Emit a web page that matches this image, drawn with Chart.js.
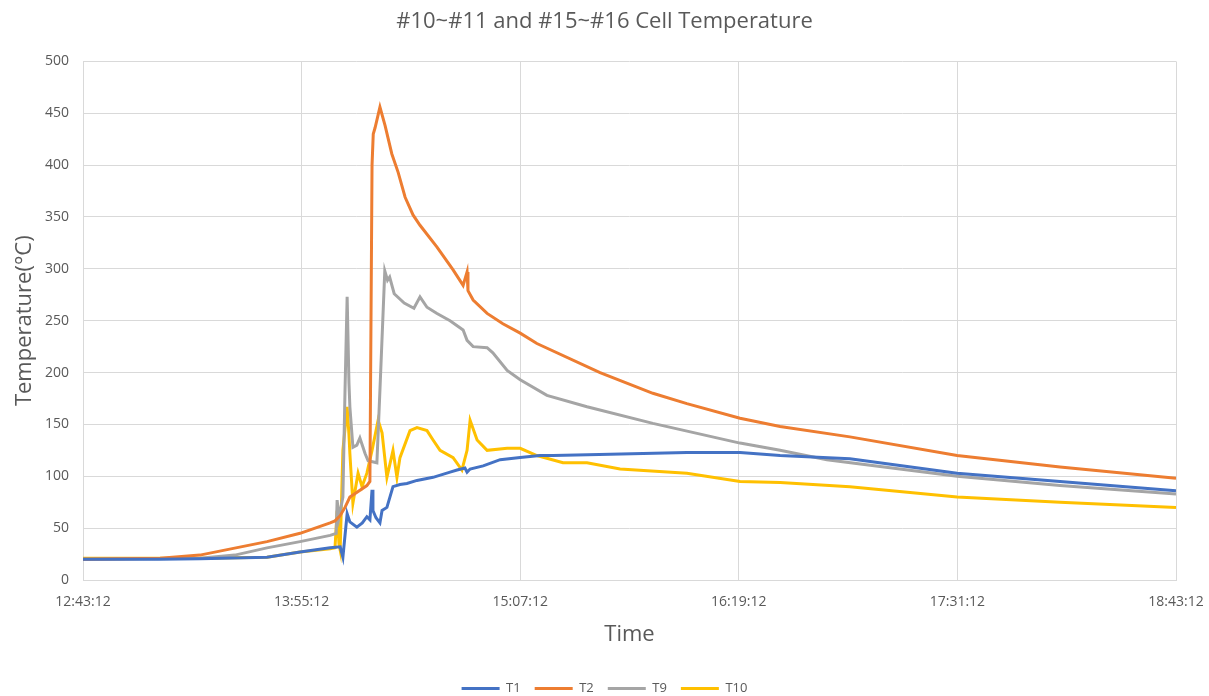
<!DOCTYPE html>
<html>
<head>
<meta charset="utf-8">
<script src="https://cdn.jsdelivr.net/npm/chart.js@4.4.0/dist/chart.umd.min.js"></script>
<style>
  html, body { margin: 0; padding: 0; background: #fff; }
  #wrap { width: 1209px; height: 696px; }
</style>
</head>
<body>
<div id="wrap"><canvas id="chart"></canvas></div>
<script>
// Time axis is minutes after 12:43:12
const startSeconds = 12 * 3600 + 43 * 60 + 12;
const tickMinutes = [0, 72, 144, 216, 288, 360];

// T1
const t1Minutes = [0, 25, 38.5, 60.6, 71.5, 81.4, 84.7, 85.6, 87, 87.9, 90.2, 92, 93.5, 94.5, 95.2, 95.5, 96.5, 97.8, 98.5, 100.1, 102.1, 104.4, 106.7, 110, 115.3, 120.9, 123.2, 125.8, 126.5, 127.5, 131.8, 137.4, 144, 150.5, 154.8, 170, 198.9, 216.4, 229.6, 252.6, 287.9, 321.8, 360];
const t1Values  = [20, 20, 20.5, 22, 27, 31, 32, 22, 64, 56, 51, 55, 61, 58, 87, 67, 60, 55, 67, 70, 90, 92, 93, 96, 99, 104, 106, 108, 104, 107, 110, 116, 118, 120, 120, 121, 123, 123, 120, 117, 103, 95, 86];

// T2
const t2Minutes = [0, 25.4, 38.5, 60.6, 71.5, 81.4, 83, 84.7, 86.3, 87.9, 88.9, 93.5, 94.5, 95.2, 95.6, 96.2, 97.8, 99.5, 101.7, 103.8, 106.1, 108.7, 111, 116.6, 121.9, 125.2, 126.5, 126.8, 128.5, 133.1, 138.3, 144, 149.5, 170.3, 187.7, 198.9, 216.4, 229.6, 252.6, 287.9, 321.8, 360];
const t2Values  = [20, 21, 24, 37, 45, 55, 57, 62, 70, 80, 82, 91, 95, 400, 430, 436, 456, 438, 411, 393, 369, 352, 342, 321, 299, 284, 297, 279, 270, 257, 247, 238, 228, 200, 180, 170, 156, 148, 138, 120, 109, 98];

// T9
const t9Minutes = [0, 38.5, 50, 60.6, 71.5, 81.4, 83.4, 83.7, 84.3, 85.6, 86.3, 87, 87.6, 87.9, 88.9, 90.2, 91.2, 92.9, 93.9, 96.8, 97.8, 99.4, 100.3, 101, 102.5, 105.8, 109, 111, 113.3, 116.6, 120.9, 125.2, 126.5, 128.5, 133.1, 135, 139.7, 144, 152.8, 166, 187.7, 216.4, 229.6, 245, 287.9, 321.8, 360];
const t9Values  = [20, 21, 24, 31, 37, 43, 45, 77, 60, 80, 183, 273, 190, 167, 128, 130, 137, 122, 115, 113, 183, 298, 289, 292, 276, 267, 262, 273, 263, 257, 250, 241, 231, 225, 224, 219, 202, 193, 178, 167, 151, 132, 125, 116, 100, 91, 83];

// T10
const t10Minutes = [0, 25, 38.5, 60.6, 71.5, 81.4, 83, 83.7, 84.3, 84.7, 85.6, 87, 87.6, 87.9, 88.9, 90.6, 91.9, 93.5, 95.2, 97.2, 98.5, 100.1, 102.1, 103.4, 104.4, 107.7, 110, 113.3, 115.3, 117.6, 121.9, 124.8, 126.5, 127.5, 129.8, 133.1, 139.7, 144, 149.5, 158.1, 166, 176.9, 198.9, 216.4, 229.6, 252.6, 287.9, 321.8, 360];
const t10Values  = [21, 21, 21, 22, 27, 30, 31, 67, 35, 29, 125, 167, 140, 122, 74, 103, 90, 103, 125, 154, 142, 99, 125, 99, 118, 144, 147, 144, 135, 125, 118, 106, 125, 154, 135, 125, 127, 127, 120, 113, 113, 107, 103, 95, 94, 90, 80, 75, 70];

const seriesNames = ['T1', 'T2', 'T9', 'T10'];
const seriesColors = ['#4472C4', '#ED7D31', '#A5A5A5', '#FFC000'];

function toPoints(xs, ys) {
    return xs.map((x, i) => ({ x: x, y: ys[i] }));
}

function formatClock(minutes) {
    let s = Math.round(startSeconds + minutes * 60);
    const h = Math.floor(s / 3600);
    const m = Math.floor((s % 3600) / 60);
    const sec = s % 60;
    return h + ':' + String(m).padStart(2, '0') + ':' + String(sec).padStart(2, '0');
}

const allSeries = [
    toPoints(t1Minutes, t1Values),
    toPoints(t2Minutes, t2Values),
    toPoints(t9Minutes, t9Values),
    toPoints(t10Minutes, t10Values)
];

Chart.defaults.font.family = "'Open Sans', 'Noto Sans', sans-serif";
Chart.defaults.color = '#595959';

const ctx = document.getElementById('chart');
new Chart(ctx, {
    type: 'line',
    data: {
        datasets: allSeries.map((pts, i) => ({
            label: seriesNames[i],
            data: pts,
            borderColor: seriesColors[i],
            backgroundColor: seriesColors[i],
            borderWidth: 3,
            pointRadius: 0,
            tension: 0,
            fill: false
        }))
    },
    options: {
        responsive: true,
        maintainAspectRatio: false,
        animation: false,
        // negative bottom pads the legend lower, like the original
        layout: { padding: { left: 0, right: 0, top: 0, bottom: -9 } },
        plugins: {
            title: {
                display: true,
                text: '#10~#11 and #15~#16 Cell Temperature',
                color: '#595959',
                font: { size: 22, weight: 'normal' },
                padding: { top: 9, bottom: 26 }
            },
            legend: {
                position: 'bottom',
                labels: {
                    usePointStyle: true,
                    pointStyle: 'line',
                    pointStyleWidth: 38,
                    padding: 14,
                    color: '#595959',
                    font: { size: 13 }
                }
            },
            tooltip: { enabled: false }
        },
        scales: {
            x: {
                type: 'linear',
                min: 0,
                max: 360,
                afterBuildTicks: scale => {
                    scale.ticks = tickMinutes.map(v => ({ value: v }));
                },
                afterFit: scale => {
                    scale.height = 88;
                    scale.paddingLeft = 0;
                    scale.paddingRight = 33;
                },
                ticks: {
                    callback: v => formatClock(v),
                    maxRotation: 0,
                    padding: 14,
                    font: { size: 14 },
                    color: '#595959'
                },
                grid: { color: '#d9d9d9', drawTicks: false },
                border: { color: '#d9d9d9' },
                title: {
                    display: true,
                    text: 'Time',
                    color: '#595959',
                    font: { size: 22 },
                    padding: { top: 0, bottom: 20 }
                }
            },
            y: {
                min: 0,
                max: 500,
                afterFit: scale => { scale.width = 83; },
                ticks: {
                    stepSize: 50,
                    padding: 14,
                    font: { size: 14 },
                    color: '#595959'
                },
                grid: { color: '#d9d9d9', drawTicks: false },
                border: { display: false },
                title: {
                    display: true,
                    text: 'Temperature(°C)',
                    color: '#595959',
                    font: { size: 22 },
                    padding: { top: 12, bottom: 0 }
                }
            }
        }
    }
});
</script>
</body>
</html>
